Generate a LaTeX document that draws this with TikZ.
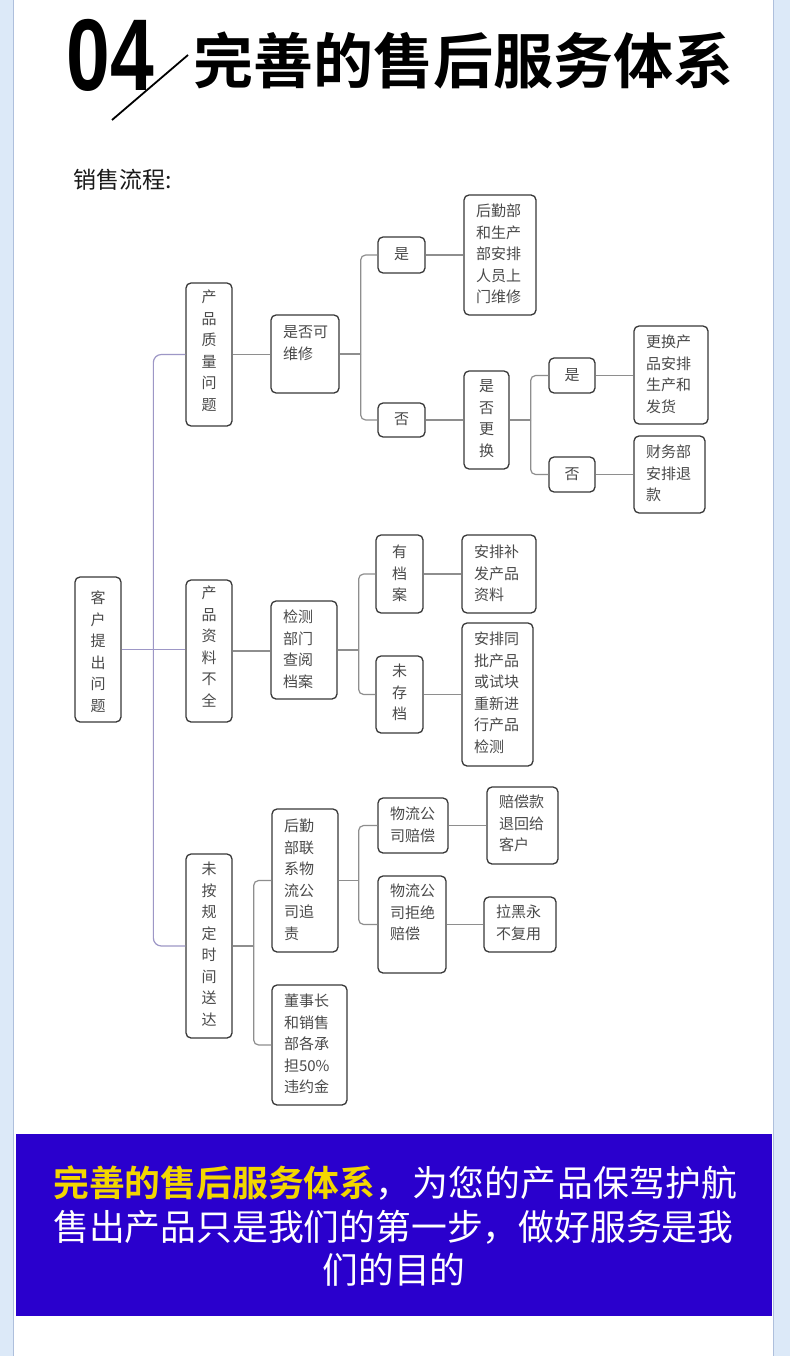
\documentclass[tikz,border=0pt]{standalone}
\usepackage{fontspec}
\setmainfont{Noto Sans CJK SC}[BoldFont={* Bold}]
\newfontfamily\numfont{Liberation Sans}
\definecolor{stripc}{HTML}{DCE9F8}
\definecolor{borderc}{HTML}{AEBFDC}
\definecolor{boxc}{HTML}{383838}
\definecolor{txtc}{HTML}{4A4A4A}
\definecolor{conc}{HTML}{8E8E8E}
\definecolor{lavc}{HTML}{9D97C6}
\definecolor{bannerc}{HTML}{2A00CD}
\definecolor{yellc}{HTML}{F3D600}
\newcommand\boxfont{\fontsize{15}{21.5}\selectfont}
\newcommand\bannerfont{\fontsize{35.8}{40}\selectfont}
% #1 name, #2 x1, #3 y1, #4 x2, #5 y2, #6 top pad, #7 c/l, #8 lines
\newcommand\flowbox[8]{%
  \node[bx, minimum width={#4-#2}, minimum height={#5-#3}] (#1) at ({(#2+#4)/2},{(#3+#5)/2})
  {\parbox[c][\dimexpr#5pt-#3pt\relax][t]{\dimexpr#4pt-#2pt\relax}{\vspace*{#6pt}%
   \if c#7\centering\else\raggedright\hspace*{12pt}\fi
   \boxfont\begin{tabular}[t]{@{}l@{}}#8\end{tabular}\par}};}
\begin{document}
\begin{tikzpicture}[x=1pt,y=-1pt,
  bx/.style={draw=boxc, line width=1.3pt, rounded corners=5pt, inner sep=0pt, text=txtc, fill=white},
  con/.style={draw=conc, line width=1.2pt, rounded corners=5pt},
  lav/.style={draw=lavc, line width=1.2pt, rounded corners=8pt}]
\useasboundingbox (0,0) rectangle (790,1356);
% background
\fill[stripc] (0,0) rectangle (790,1356);
\fill[white] (13,0) rectangle (773,1356);
\draw[borderc, line width=1pt] (13,0) -- (13,1356) (773,0) -- (773,1356);
% header
\node[anchor=base, inner sep=0pt] (num) at (110.5,91) {\numfont\bfseries\fontsize{102}{102}\selectfont\scalebox{0.77}[1]{04}};
\coordinate (sl1) at (112,120);
\coordinate (sl2) at (188,55);
\draw[line width=1.8pt] (sl1) -- (sl2);
\node[anchor=west, inner sep=0pt] (title) at (193,60) {\fontsize{60}{60}\selectfont\bfseries 完善的售后服务体系};
\node[anchor=west, inner sep=0pt, text=black!90] (flow) at (73,180) {\fontsize{23}{23}\selectfont 销售流程:};
% boxes
\flowbox{root}{75}{577}{121}{722}{11.5}{c}{客\\户\\提\\出\\问\\题}
\flowbox{q1}{186}{283}{232}{426}{4.5}{c}{产\\品\\质\\量\\问\\题}
\flowbox{q2}{186}{580}{232}{722}{3.5}{c}{产\\品\\资\\料\\不\\全}
\flowbox{q3}{186}{854}{232}{1038}{5.5}{c}{未\\按\\规\\定\\时\\间\\送\\达}
\flowbox{r1}{271}{315}{339}{393}{7.5}{l}{是否可\\维修}
\flowbox{y1}{378}{237}{425}{273}{7.5}{c}{是}
\flowbox{n1}{378}{403}{425}{437}{6.5}{c}{否}
\flowbox{a1}{464}{195}{536}{315}{6.5}{l}{后勤部\\和生产\\部安排\\人员上\\门维修}
\flowbox{r2}{464}{371}{509}{469}{5.5}{c}{是\\否\\更\\换}
\flowbox{y2}{549}{358}{595}{393}{7.5}{c}{是}
\flowbox{n2}{549}{457}{595}{492}{7.5}{c}{否}
\flowbox{a2}{634}{326}{708}{424}{6.5}{l}{更换产\\品安排\\生产和\\发货}
\flowbox{a3}{634}{436}{705}{513}{6.5}{l}{财务部\\安排退\\款}
\flowbox{r3}{271}{601}{337}{699}{6.5}{l}{检测\\部门\\查阅\\档案}
\flowbox{y3}{376}{535}{423}{613}{7.5}{c}{有\\档\\案}
\flowbox{a4}{462}{535}{536}{613}{7.5}{l}{安排补\\发产品\\资料}
\flowbox{n3}{376}{656}{423}{733}{5.5}{c}{未\\存\\档}
\flowbox{a5}{462}{623}{533}{766}{6.5}{l}{安排同\\批产品\\或试块\\重新进\\行产品\\检测}
\flowbox{r4}{272}{809}{338}{952}{7.5}{l}{后勤\\部联\\系物\\流公\\司追\\责}
\flowbox{b1}{378}{798}{448}{853}{6.5}{l}{物流公\\司赔偿}
\flowbox{a6}{487}{787}{558}{864}{5.5}{l}{赔偿款\\退回给\\客户}
\flowbox{b2}{378}{876}{446}{973}{5.5}{l}{物流公\\司拒绝\\赔偿}
\flowbox{a7}{484}{897}{556}{952}{5.5}{l}{拉黑永\\不复用}
\flowbox{r5}{272}{985}{347}{1105}{6.5}{l}{董事长\\和销售\\部各承\\担50\%\\违约金}
% root connectors
\coordinate (sp) at ([xshift=-32pt]q2.west);
\draw[lav] (root.east) -- (root.east -| q2.west);
\draw[lav] (q1.west) -| (sp);
\draw[lav] (q3.west) -| (sp);
% branch 1
\draw[con] (q1.east) -- (q1.east -| r1.west);
\coordinate (s1) at ([xshift=21pt]r1.east);
\draw[con] (r1.east) -- (s1);
\draw[con] (y1.west) -| (s1);
\draw[con] (n1.west) -| (s1);
\draw[con] (y1.east) -- (y1.east -| a1.west);
\draw[con] (n1.east) -- (n1.east -| r2.west);
\coordinate (s2) at ([xshift=21pt]r2.east);
\draw[con] (r2.east) -- (s2);
\draw[con] (y2.west) -| (s2);
\draw[con] (n2.west) -| (s2);
\draw[con] (y2.east) -- (y2.east -| a2.west);
\draw[con] (n2.east) -- (n2.east -| a3.west);
% branch 2
\draw[con] (q2.east) -- (q2.east -| r3.west);
\coordinate (s3) at ([xshift=21pt]r3.east);
\draw[con] (r3.east) -- (s3);
\draw[con] (y3.west) -| (s3);
\draw[con] (n3.west) -| (s3);
\draw[con] (y3.east) -- (y3.east -| a4.west);
\draw[con] (n3.east) -- (n3.east -| a5.west);
% branch 3
\coordinate (s4) at ([xshift=21pt]q3.east);
\draw[con] (q3.east) -- (s4);
\draw[con] (r4.west) -| (s4);
\draw[con] (r5.west) -| (s4);
\coordinate (s5) at ([xshift=20pt]r4.east);
\draw[con] (r4.east) -- (s5);
\draw[con] (b1.west) -| (s5);
\draw[con] (b2.west) -| (s5);
\draw[con] (b1.east) -- (b1.east -| a6.west);
\draw[con] (b2.east) -- (b2.east -| a7.west);
% banner
\fill[bannerc] (16,1134) rectangle (772,1316);
\node[anchor=west, inner sep=0pt, text=yellc] (bl1) at (53,1183) {\bannerfont\bfseries 完善的售后服务体系};
\node[anchor=west, inner sep=0pt, text=white] (bl1r) at (bl1.east) {\bannerfont\makebox[362pt][s]{，\hfill 为\hfill 您\hfill 的\hfill 产\hfill 品\hfill 保\hfill 驾\hfill 护\hfill 航}};
\node[anchor=west, inner sep=0pt, text=white] (bl2) at (53,1227) {\bannerfont 售出产品只是我们的第一步，做好服务是我};
\node[inner sep=0pt, text=white] (bl3) at (394,1270) {\bannerfont 们的目的};
\end{tikzpicture}
\end{document}
